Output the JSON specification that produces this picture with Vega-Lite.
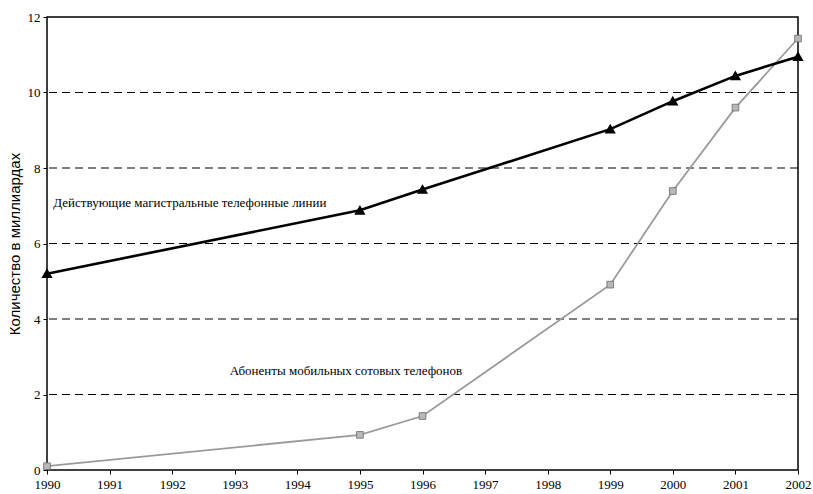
{
  "$schema": "https://vega.github.io/schema/vega-lite/v6.json",
  "autosize": "none",
  "width": 751,
  "height": 453,
  "padding": {"left": 47, "top": 17, "right": 15, "bottom": 24},
  "background": "white",
  "config": {
    "font": "'Liberation Serif', 'Times New Roman', serif",
    "view": {"stroke": "black", "strokeWidth": 1.5},
    "axis": {"labelFont": "'Liberation Serif', 'Times New Roman', serif", "titleFont": "'Liberation Sans', Arial, sans-serif", "labelColor": "black", "titleColor": "black", "domainColor": "black", "tickColor": "black"}
  },
  "datasets": {
    "series": [
      {"year": 1990, "value": 5.2, "series": "lines"},
      {"year": 1995, "value": 6.88, "series": "lines"},
      {"year": 1996, "value": 7.43, "series": "lines"},
      {"year": 1999, "value": 9.03, "series": "lines"},
      {"year": 2000, "value": 9.77, "series": "lines"},
      {"year": 2001, "value": 10.44, "series": "lines"},
      {"year": 2002, "value": 10.95, "series": "lines"},
      {"year": 1990, "value": 0.1, "series": "mobile"},
      {"year": 1995, "value": 0.93, "series": "mobile"},
      {"year": 1996, "value": 1.43, "series": "mobile"},
      {"year": 1999, "value": 4.91, "series": "mobile"},
      {"year": 2000, "value": 7.39, "series": "mobile"},
      {"year": 2001, "value": 9.6, "series": "mobile"},
      {"year": 2002, "value": 11.43, "series": "mobile"}
    ],
    "grid": [{"g": 2}, {"g": 4}, {"g": 6}, {"g": 8}, {"g": 10}],
    "labels": [
      {"year": 1990.1, "value": 7.07, "text": "Действующие магистральные телефонные линии"},
      {"year": 1992.92, "value": 2.62, "text": "Абоненты мобильных сотовых телефонов"}
    ]
  },
  "layer": [
    {
      "data": {"name": "grid"},
      "mark": {"type": "rule", "stroke": "black", "strokeWidth": 1.2, "strokeDash": [8, 5]},
      "encoding": {
        "y": {"field": "g", "type": "quantitative", "scale": {"domain": [0, 12]},
          "axis": {"values": [0, 2, 4, 6, 8, 10, 12], "grid": false, "labelFontSize": 13, "tickSize": 4, "labelPadding": 3, "domain": false,
            "title": "Количество в миллиардах", "titleFontSize": 15, "titleFontWeight": "normal", "titlePadding": 5}}
      }
    },
    {
      "data": {"name": "series"},
      "transform": [{"filter": "datum.series === 'mobile'"}],
      "mark": {"type": "line", "stroke": "#9a9a9a", "strokeWidth": 1.8, "point": {"shape": "square", "size": 45, "fill": "#b8b8b8", "stroke": "#6a6a6a", "strokeWidth": 0.8}},
      "encoding": {
        "x": {"field": "year", "type": "quantitative", "scale": {"domain": [1990, 2002], "nice": false},
          "axis": {"values": [1990,1991,1992,1993,1994,1995,1996,1997,1998,1999,2000,2001,2002], "format": "d", "grid": false, "labelFontSize": 13, "tickSize": 4, "labelPadding": 4, "title": null, "domain": false, "labelFlush": false}},
        "y": {"field": "value", "type": "quantitative"}
      }
    },
    {
      "data": {"name": "series"},
      "transform": [{"filter": "datum.series === 'lines'"}],
      "mark": {"type": "line", "stroke": "black", "strokeWidth": 2.6, "point": {"shape": "triangle-up", "size": 60, "fill": "black", "stroke": "black"}},
      "encoding": {
        "x": {"field": "year", "type": "quantitative"},
        "y": {"field": "value", "type": "quantitative"}
      }
    },
    {
      "data": {"name": "labels"},
      "mark": {"type": "text", "align": "left", "baseline": "middle", "fontSize": 13, "font": "'Liberation Serif', 'Times New Roman', serif", "color": "black"},
      "encoding": {
        "x": {"field": "year", "type": "quantitative"},
        "y": {"field": "value", "type": "quantitative"},
        "text": {"field": "text"}
      }
    }
  ]
}
